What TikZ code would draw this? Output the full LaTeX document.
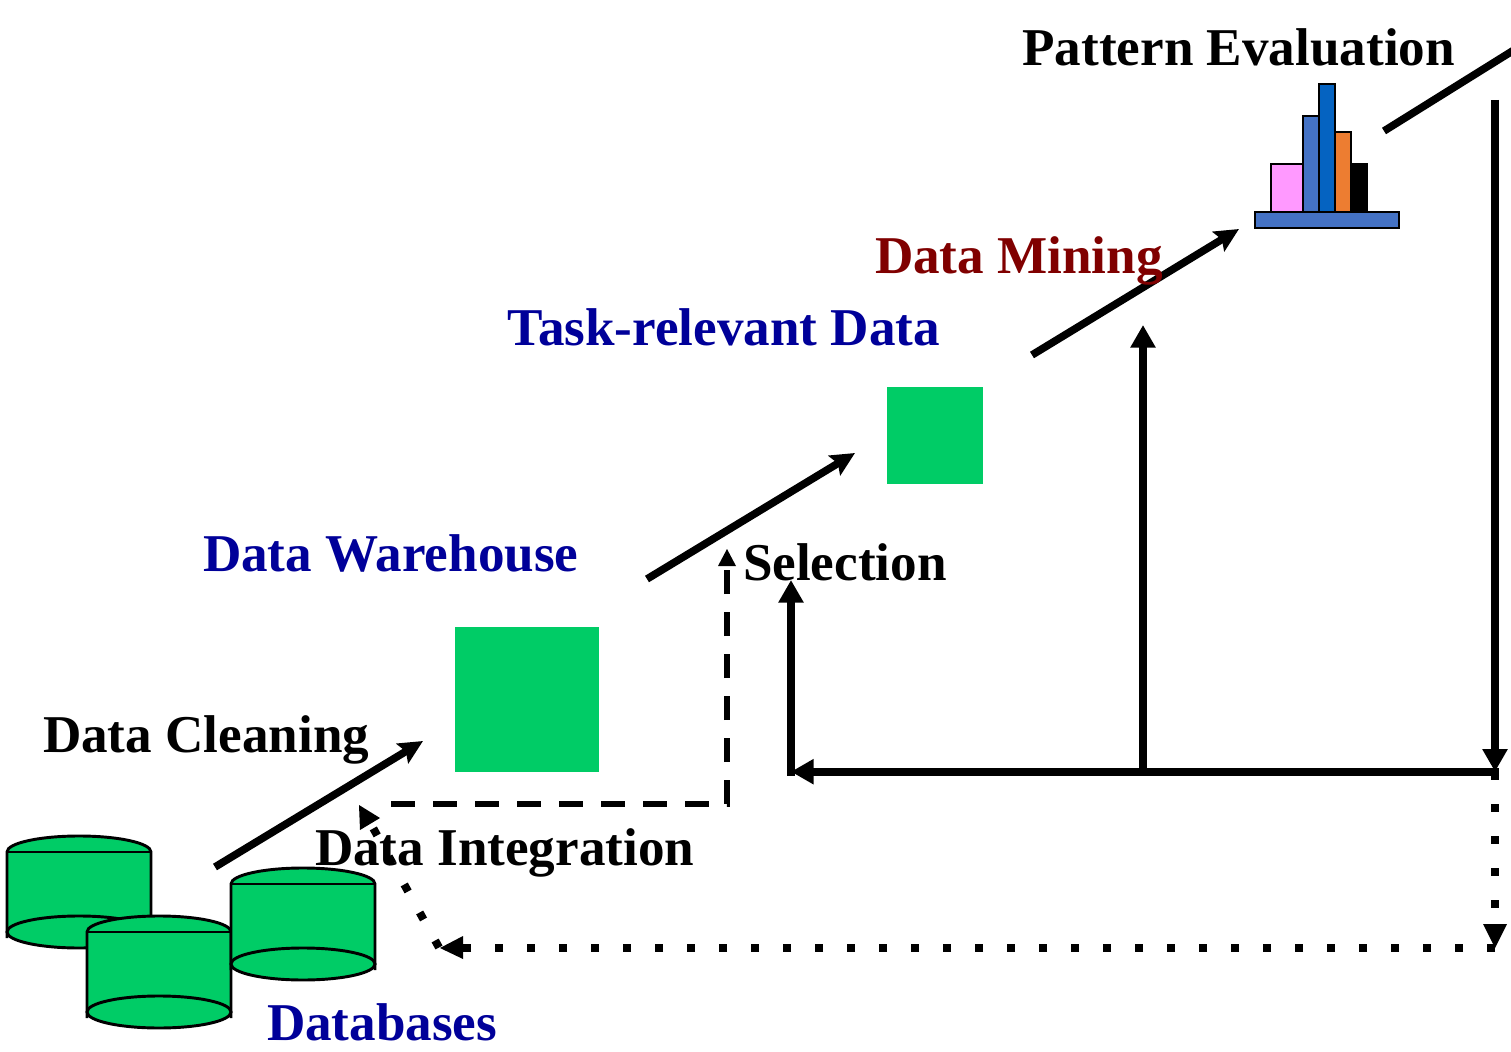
\documentclass[tikz,border=0pt]{standalone}
\usepackage{fontspec}
\setmainfont{Liberation Serif}
\usetikzlibrary{arrows.meta}
\definecolor{dbgreen}{HTML}{00CC66}
\definecolor{navy}{HTML}{000099}
\definecolor{darkred}{HTML}{800000}
\definecolor{barblue}{HTML}{4472C4}
\definecolor{bardark}{HTML}{0563C1}
\definecolor{barorange}{HTML}{ED7D31}
\definecolor{barpink}{HTML}{FF99FF}
\tikzset{
  label/.style={font=\fontsize{39.85pt}{44pt}\selectfont\bfseries,anchor=base west,inner sep=0pt,outer sep=0pt},
  flow/.style={line width=6pt,-{Triangle[length=17pt,width=18pt]}},
  diag/.style={line width=5.7pt,-{Stealth[length=18pt,width=17pt,inset=3pt]}},
  plain/.style={line width=5.7pt},
  dashline/.style={line width=4.8pt,dash pattern=on 18pt off 13.5pt},
  dotline/.style={line width=6pt,dash pattern=on 6pt off 18pt},
  bar/.style={draw=black,line width=2.2pt},
}
\newcommand{\dbcyl}[2]{% left x, top-centre y
  \fill[dbgreen] (#1,#2) arc[start angle=180,end angle=360,x radius=72,y radius=16]
    -- ++(0,80) arc[start angle=0,end angle=180,x radius=72,y radius=16] -- cycle;
  \draw[line width=2.2pt] (#1,#2+86) -- (#1,#2) arc[start angle=180,end angle=360,x radius=72,y radius=16] -- ++(0,86);
  \draw[line width=2.2pt] (#1,#2) -- ++(144,0);
  \draw[line width=2.2pt,fill=dbgreen] (#1+72,#2+80) ellipse[x radius=72,y radius=16];
}
\begin{document}
\begin{tikzpicture}[x=0.75pt,y=-0.75pt]
\useasboundingbox (0,0) rectangle (1511,1052);
% data stores
\fill[dbgreen] (455,627) rectangle (599,772);
\fill[dbgreen] (887,387) rectangle (983,484);
% databases
\dbcyl{7}{852}
\dbcyl{87}{932}
\dbcyl{231}{884}
% chart
\draw[bar,fill=barpink] (1271,164) rectangle (1303,212);
\draw[bar,fill=barblue] (1303,116) rectangle (1319,212);
\draw[bar,fill=bardark] (1319,84) rectangle (1335,212);
\draw[bar,fill=barorange] (1335,132) rectangle (1351,212);
\draw[bar,fill=black] (1351,164) rectangle (1367,212);
\draw[bar,fill=barblue] (1255,212) rectangle (1399,228);
% coordinates
\coordinate (c1a) at (215,867); \coordinate (c1b) at (423,741);
\coordinate (c2a) at (647,579); \coordinate (c2b) at (855,453);
\coordinate (c3a) at (1032,355); \coordinate (c3b) at (1239,229);
\coordinate (c4a) at (1384,131); \coordinate (c4b) at (1514,50);
\coordinate (r0) at (1495,100); \coordinate (r1) at (1495,771.7);
\coordinate (rs) at (1499,771.7);
\coordinate (mid) at (1143,771.7); \coordinate (midt) at (1143,325);
\coordinate (l1) at (791,771.7); \coordinate (lb) at (791,775.7); \coordinate (lt) at (791,580);
\coordinate (d0) at (391,804); \coordinate (d1) at (727,804); \coordinate (d2) at (727,549);
\coordinate (v1) at (1495,948); \coordinate (h1) at (440,948);
\coordinate (g0) at (439,947.5); \coordinate (g1) at (372,826);
% solid connectors
\draw[diag] (c1a) -- (c1b);
\draw[diag] (c2a) -- (c2b);
\draw[diag] (c3a) -- (c3b);
\draw[plain] (c4a) -- (c4b);
\draw[flow] (r0) -- (r1);
\draw[flow] (rs) -- (l1);
\draw[flow] (mid) -- (midt);
\draw[flow] (lb) -- (lt);
% dashed
\draw[dashline] (d0) -- (d1) -- (727,566);
\fill (d2) -- (736,566) -- (718,566) -- cycle;
\fill (359,805) -- (380,818) -- (360,830) -- cycle;
% dotted
\draw[dotline] (1495,772) -- (1495,930);
\fill (v1) -- (1483,924) -- (1507,924) -- cycle;
\draw[dotline] (v1) -- (463,948);
\fill (h1) -- (463,936) -- (463,959) -- cycle;
\draw[dotline] (g0) -- (g1);
% labels
\node[label] (pe) at (1022.5,66) {Pattern Evaluation};
\node[label,text=darkred] (dm) at (875,273) {Data Mining};
\node[label,text=navy] (trd) at (507.5,345.5) {Task-relevant Data};
\node[label,text=navy] (dwh) at (203,571) {Data Warehouse};
\node[label] (sel) at (743,580) {Selection};
\node[label] (dc) at (43,752.5) {Data Cleaning};
\node[label] (di) at (315,865) {Data Integration};
\node[label,text=navy] (dbs) at (267,1040.5) {Databases};
\end{tikzpicture}
\end{document}
